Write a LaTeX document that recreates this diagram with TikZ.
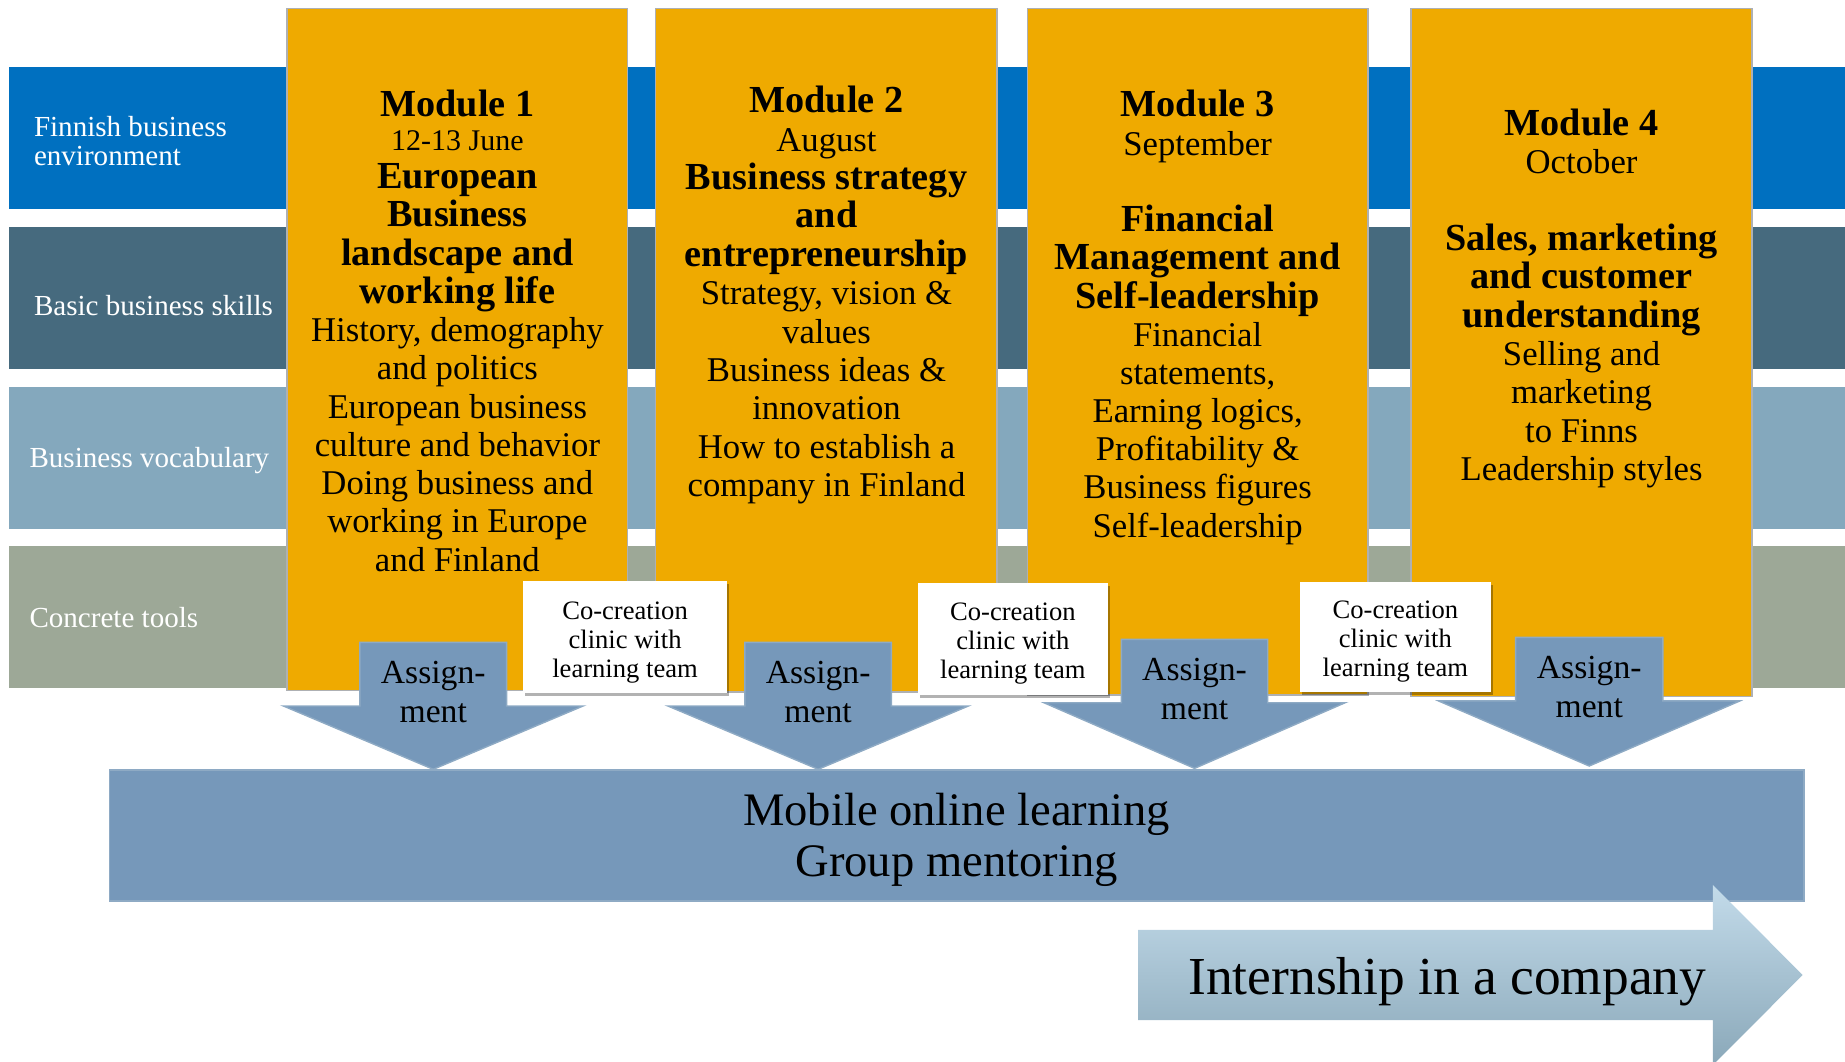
\documentclass[tikz,border=0pt]{standalone}
\usepackage{fontspec}
\setmainfont{Liberation Serif}
\usetikzlibrary{shadows}
\definecolor{bandA}{HTML}{0070C0}
\definecolor{bandB}{HTML}{466A7E}
\definecolor{bandC}{HTML}{84A8BD}
\definecolor{bandD}{HTML}{9DA897}
\definecolor{modfill}{HTML}{EFAA00}
\definecolor{modline}{HTML}{AEB0B3}
\definecolor{steel}{HTML}{7698BA}
\definecolor{steelline}{HTML}{8EAAC4}
\definecolor{intTop}{HTML}{C3DBEA}
\definecolor{intBot}{HTML}{8AA8B9}
\newcommand\txtstack[1]{\begin{tabular}[t]{@{}c@{}}#1\end{tabular}}
\newcommand\txtstackl[1]{\begin{tabular}[t]{@{}l@{}}#1\end{tabular}}
\newcommand\modB[1]{{\fontsize{16.25}{16.3}\selectfont\bfseries #1}}
\newcommand\modS[1]{{\fontsize{12.75}{16.3}\selectfont #1}}
\newcommand\asgarrow[6]{%
  \path[asgshape] (#1-#2,#4) -- (#1+#2,#4) -- (#1+#2,#5) -- (#1+#3,#5)
    -- (#1,#6) -- (#1-#3,#5) -- (#1-#2,#5) -- cycle;}
\begin{document}
\begin{tikzpicture}[x=0.5pt,y=-0.5pt,
  txtshift/.style={yshift=-0.8pt},
  bandlabel/.style={txtshift, anchor=base west, inner sep=0, text=white,
    font=\fontsize{12.35}{12.35}\selectfont},
  modbox/.style={fill=modfill, draw=modline, line width=0.6pt},
  modtext/.style={txtshift, anchor=base, inner sep=0, font=\fontsize{14.75}{#1}\selectfont},
  cobox/.style={fill=white, drop shadow={shadow xshift=0.9pt, shadow yshift=-1.3pt, fill=black, opacity=0.3}},
  cotext/.style={txtshift, anchor=base, inner sep=0, font=\fontsize{11.3}{12.3}\selectfont},
  asgshape/.style={fill=steel, draw=steelline, line width=0.6pt},
  asgtext/.style={txtshift, anchor=base, inner sep=0, font=\fontsize{14.3}{16.5}\selectfont},
  bigtext/.style={txtshift, anchor=base, inner sep=0, font=\fontsize{19.8}{21.65}\selectfont},
]
\useasboundingbox (0,0) rectangle (1568,901.7);

% horizontal bands
\fill[bandA] (7.6,56.7) rectangle (1568,177.6);
\fill[bandB] (7.6,192.5) rectangle (1568,313.6);
\fill[bandC] (7.6,328.6) rectangle (1568,449.6);
\fill[bandD] (7.6,463.7) rectangle (1568,584.4);
\node[bandlabel] (lA) at (28.5,114.7) {\txtstackl{Finnish business\\environment}};
\node[bandlabel] (lB) at (28.5,266.3) {Basic business skills};
\node[bandlabel] (lC) at (24.7,396) {Business vocabulary};
\node[bandlabel] (lD) at (24.7,532) {Concrete tools};

% module boxes
\draw[modbox] (244,7) rectangle (533.5,587);
\draw[modbox] (557.3,7) rectangle (847.4,588);
\draw[modbox] (873,7) rectangle (1162.5,590.6);
\draw[modbox] (1199.2,7) rectangle (1489,592);

\node[modtext=16.25pt] (t1) at (388.75,97.7) {\txtstack{%
\modB{Module 1}\\[-2pt]
\modS{12-13 June}\\
\modB{European}\\
\modB{Business}\\
\modB{landscape and}\\
\modB{working life}\\
History, demography\\
and politics\\
European business\\
culture and behavior\\
Doing business and\\
working in Europe\\
and Finland}};

\node[modtext=16.3pt] (t2) at (702.4,94.3) {\txtstack{%
\modB{Module 2}\\
August\\
\modB{Business strategy}\\
\modB{and}\\
\modB{entrepreneurship}\\
Strategy, vision \&\\
values\\
Business ideas \&\\
innovation\\
How to establish a\\
company in Finland}};

\node[modtext=16.23pt] (t3) at (1017.8,97.7) {\txtstack{%
\modB{Module 3}\\
September\\
\\
\modB{Financial}\\
\modB{Management and}\\
\modB{Self-leadership}\\
Financial\\
statements,\\
Earning logics,\\
Profitability \&\\
Business figures\\
Self-leadership}};

\node[modtext=16.3pt] (t4) at (1344.1,113.3) {\txtstack{%
\modB{Module 4}\\
October\\
\\
\modB{Sales, marketing}\\
\modB{and customer}\\
\modB{understanding}\\
Selling and\\
marketing\\
to Finns\\
Leadership styles}};

% co-creation clinics
\path[cobox] (444.6,493.8) rectangle (617.7,589.2);
\path[cobox] (780,495.2) rectangle (941.6,590.4);
\path[cobox] (1104.8,494.6) rectangle (1267,587.8);
\node[cotext] (c1) at (531.2,524.6) {\txtstack{Co-creation\\clinic with\\learning team}};
\node[cotext] (c2) at (860.8,525.5) {\txtstack{Co-creation\\clinic with\\learning team}};
\node[cotext] (c3) at (1185.9,524) {\txtstack{Co-creation\\clinic with\\learning team}};

% assignment arrows
\asgarrow{368.2}{62.4}{127.3}{545.9}{600}{653.8}
\asgarrow{695.3}{62.3}{127.65}{545.9}{600}{653.8}
\asgarrow{1015.2}{62.2}{128}{543.3}{597.2}{653}
\asgarrow{1350.6}{62.6}{128}{541.6}{595.7}{651}
\node[asgtext] (a1) at (368.2,579.3) {\txtstack{Assign-\\ment}};
\node[asgtext] (a2) at (695.3,579.3) {\txtstack{Assign-\\ment}};
\node[asgtext] (a3) at (1015.2,576.5) {\txtstack{Assign-\\ment}};
\node[asgtext] (a4) at (1350.6,575) {\txtstack{Assign-\\ment}};

% mobile online learning bar
\draw[fill=steel, draw=steelline, line width=0.6pt] (93.2,654.4) rectangle (1533,765.7);
\node[bigtext] (mob) at (813,700.3) {\txtstack{Mobile online learning\\Group mentoring}};

% internship arrow
\path[top color=intTop, bottom color=intBot]
  (967.3,790.3) -- (1455.6,790.3) -- (1455.6,752) -- (1532,828.6)
  -- (1455.6,905.2) -- (1455.6,867) -- (967.3,867) -- cycle;
\node[txtshift, anchor=base, inner sep=0, font=\fontsize{22.7}{24}\selectfont] (intern) at (1230,843.3) {Internship in a company};
\end{tikzpicture}
\end{document}
